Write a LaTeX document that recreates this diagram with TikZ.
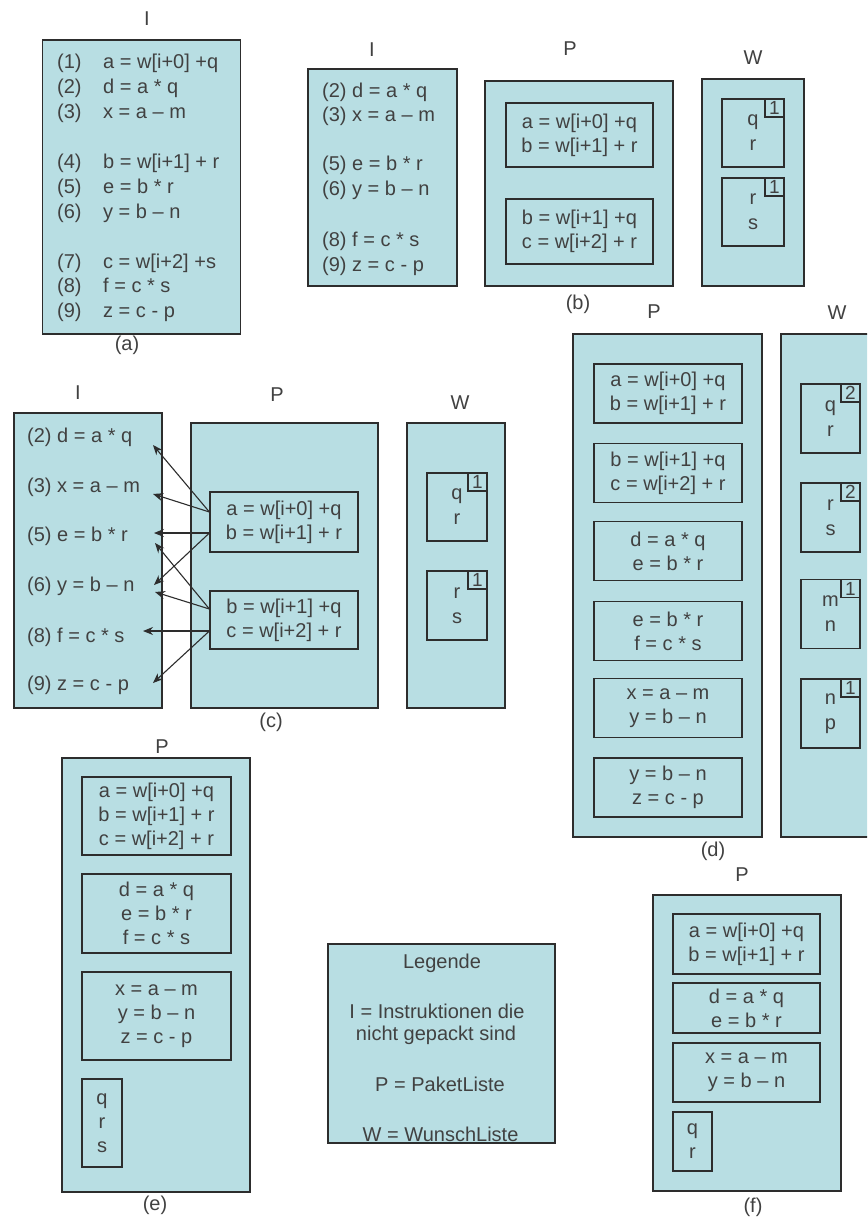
\documentclass[tikz,border=0pt]{standalone}
\usepackage{fontspec}
\setmainfont{Liberation Sans}
\usetikzlibrary{arrows.meta,calc}
\definecolor{boxc}{RGB}{184,222,227}
\definecolor{linec}{RGB}{45,45,45}
\definecolor{txtc}{RGB}{65,65,65}
\newcommand\fsz[2]{\fontsize{#1}{#2}\selectfont}
\begin{document}
\begin{tikzpicture}[x=1pt,y=-1pt,
  panel/.style={draw=linec, fill=boxc, line width=1.2pt, inner sep=0pt, text=txtc},
  sz/.style 2 args={minimum width=#1pt, minimum height=#2pt},
  pk/.style={panel, align=center, font=\fsz{20}{24}},
  wl/.style={panel, align=center, font=\fsz{20}{25}},
  num/.style={panel, anchor=north east, sz={19}{18}, font=\fsz{19}{19}},
  lbl/.style={text=txtc, font=\fsz{20}{24}, inner sep=0pt},
  lg/.style={lbl, text height=15pt, text depth=4pt},
  ln/.style={lbl, anchor=west, text height=15pt, text depth=4pt},
  arr/.style={draw=linec, line width=1.1pt, -{Stealth[length=10pt,width=8pt]}}]
\fill[white] (0,0) rectangle (867,1217);
\useasboundingbox (0,0) rectangle (867,1217);
\clip (0,0) rectangle (867,1217);

% ---------- (a)
\node[panel, sz={198}{294}] (Ia) at (141.7,187) {};
\node[lbl] (Ia-t) at (147,19) {I};
\node[lbl] (Ia-c) at (127,345) {(a)};
\node[ln] (a1) at (57,63)  {\makebox[46pt][l]{(1)}a = w[i+0] +q};
\node[ln] (a2) at (57,88)  {\makebox[46pt][l]{(2)}d = a * q};
\node[ln] (a3) at (57,113) {\makebox[46pt][l]{(3)}x = a – m};
\node[ln] (a4) at (57,163) {\makebox[46pt][l]{(4)}b = w[i+1] + r};
\node[ln] (a5) at (57,188) {\makebox[46pt][l]{(5)}e = b * r};
\node[ln] (a6) at (57,213) {\makebox[46pt][l]{(6)}y = b – n};
\node[ln] (a7) at (57,263) {\makebox[46pt][l]{(7)}c = w[i+2] +s};
\node[ln] (a8) at (57,287) {\makebox[46pt][l]{(8)}f = c * s};
\node[ln] (a9) at (57,312) {\makebox[46pt][l]{(9)}z = c - p};

% ---------- (b)
\node[panel, sz={149}{217}] (Ib) at (382.5,177.5) {};
\node[lbl] (Ib-t) at (372,50) {I};
\node[ln] (b2) at (322,92)  {(2) d = a * q};
\node[ln] (b3) at (322,116) {(3) x = a – m};
\node[ln] (b5) at (322,165) {(5) e = b * r};
\node[ln] (b6) at (322,190) {(6) y = b – n};
\node[ln] (b8) at (322,241) {(8) f = c * s};
\node[ln] (b9) at (322,266) {(9) z = c - p};
\node[panel, sz={188}{205}] (Pb) at (579,183.5) {};
\node[lbl] (Pb-t) at (570,49) {P};
\node[pk, sz={147}{64}] (Pb1) at (579.5,135) {a = w[i+0] +q\\b = w[i+1] + r};
\node[pk, sz={147}{65}] (Pb2) at (579.5,231.5) {b = w[i+1] +q\\c = w[i+2] + r};
\node[panel, sz={102}{207}] (Wb) at (753,182.5) {};
\node[lbl] (Wb-t) at (753,58) {W};
\node[wl, sz={62}{68}] (Wb1) at (753,133) {q\\r};
\node[num] (Wb1n) at (Wb1.north east) {1};
\node[wl, sz={62}{68}] (Wb2) at (753,212) {r\\s};
\node[num] (Wb2n) at (Wb2.north east) {1};
\node[lbl] (b-c) at (578,304) {(b)};

% ---------- (c)
\node[panel, sz={148}{295}] (Ic) at (88,560.5) {};
\node[lbl] (Ic-t) at (78,393) {I};
\node[ln] (c2) at (27,437) {(2) d = a * q};
\node[ln] (c3) at (27,487) {(3) x = a – m};
\node[ln] (c5) at (27,536) {(5) e = b * r};
\node[ln] (c6) at (27,586) {(6) y = b – n};
\node[ln] (c8) at (27,637) {(8) f = c * s};
\node[ln] (c9) at (27,685) {(9) z = c - p};
\node[panel, sz={187}{285}] (Pc) at (284.5,565.5) {};
\node[lbl] (Pc-t) at (277,395) {P};
\node[pk, sz={148}{60}] (Pc1) at (284,522) {a = w[i+0] +q\\b = w[i+1] + r};
\node[pk, sz={148}{58}] (Pc2) at (284,620) {b = w[i+1] +q\\c = w[i+2] + r};
\node[panel, sz={98}{285}] (Wc) at (456,565.5) {};
\node[lbl] (Wc-t) at (460,403) {W};
\node[wl, sz={60}{68}] (Wc1) at (457,507) {q\\r};
\node[num] (Wc1n) at (Wc1.north east) {1};
\node[wl, sz={60}{69}] (Wc2) at (457,605.5) {r\\s};
\node[num] (Wc2n) at (Wc2.north east) {1};
\node[lbl] (c-c) at (271,722) {(c)};

\coordinate (o1) at ($(Pc1.west)+(0,-10)$);
\coordinate (o2) at ($(Pc1.west)+(0,11)$);
\coordinate (o3) at ($(Pc2.west)+(0,-11)$);
\coordinate (o4) at ($(Pc2.west)+(0,11)$);
\coordinate (t1) at (153,445);
\coordinate (t2) at (153,494);
\coordinate (t3) at (154,533);
\coordinate (t4) at (154,585);
\coordinate (t5) at (155,543);
\coordinate (t6) at (155,592);
\coordinate (t7) at (143,631);
\coordinate (t8) at (153,683);
\draw[arr] (o1) -- (t1);
\draw[arr] (o1) -- (t2);
\draw[arr] (o2) -- (t3);
\draw[arr] (o2) -- (t4);
\draw[arr] (o3) -- (t5);
\draw[arr] (o3) -- (t6);
\draw[arr] (o4) -- (t7);
\draw[arr] (o4) -- (t8);

% ---------- (d)
\node[panel, sz={189}{503}] (Pd) at (667.5,585.5) {};
\node[lbl] (Pd-t) at (654,312) {P};
\node[pk, sz={148}{59}] (Pd1) at (668,393.5) {a = w[i+0] +q\\b = w[i+1] + r};
\node[pk, sz={148}{59}] (Pd2) at (668,473) {b = w[i+1] +q\\c = w[i+2] + r};
\node[pk, sz={148}{59}] (Pd3) at (668,551) {d = a * q\\e = b * r};
\node[pk, sz={148}{59}] (Pd4) at (668,631) {e = b * r\\f = c * s};
\node[pk, sz={148}{59}] (Pd5) at (668,708) {x = a – m\\y = b – n};
\node[pk, sz={148}{59}] (Pd6) at (668,787.5) {y = b – n\\z = c - p};
\node[panel, sz={99}{503}] (Wd) at (830.5,585.5) {};
\node[lbl] (Wd-t) at (837,313) {W};
\node[wl, sz={59}{69}] (Wd1) at (830.5,418.5) {q\\r};
\node[num] (Wd1n) at (Wd1.north east) {2};
\node[wl, sz={59}{69}] (Wd2) at (830.5,517.5) {r\\s};
\node[num] (Wd2n) at (Wd2.north east) {2};
\node[wl, sz={59}{69}] (Wd3) at (830.5,614) {m\\n};
\node[num] (Wd3n) at (Wd3.north east) {1};
\node[wl, sz={59}{69}] (Wd4) at (830.5,713.5) {n\\p};
\node[num] (Wd4n) at (Wd4.north east) {1};
\node[lbl] (d-c) at (713,851) {(d)};

% ---------- (e)
\node[panel, sz={188}{434}] (Pe) at (156,975) {};
\node[lbl] (Pe-t) at (162,747) {P};
\node[pk, sz={149}{78}] (Pe1) at (156.5,816) {a = w[i+0] +q\\b = w[i+1] + r\\c = w[i+2] + r};
\node[pk, sz={149}{79}] (Pe2) at (156.5,913.5) {d = a * q\\e = b * r\\f = c * s};
\node[pk, sz={149}{88}] (Pe3) at (156.5,1016) {x = a – m\\y = b – n\\z = c - p};
\node[pk, sz={40}{88}] (Pe4) at (102,1123) {q\\r\\s};
\node[lbl] (e-c) at (155,1205) {(e)};

% ---------- legend
\node[panel, sz={227}{199}] (Lg) at (441.5,1043.5) {};
\node[lg] (Lg1) at (442,963) {Legende};
\node[lg] (Lg2) at (437,1013) {I = Instruktionen die};
\node[lg] (Lg3) at (436,1035) {nicht gepackt sind};
\node[lg] (Lg4) at (440,1086) {P = PaketListe};
\node[lg] (Lg5) at (440.5,1136) {W = WunschListe};

% ---------- (f)
\node[panel, sz={188}{296}] (Pf) at (747,1043) {};
\node[lbl] (Pf-t) at (742,875) {P};
\node[pk, sz={147}{60}] (Pf1) at (746.5,944) {a = w[i+0] +q\\b = w[i+1] + r};
\node[pk, sz={147}{50}] (Pf2) at (746.5,1008) {d = a * q\\e = b * r};
\node[pk, sz={147}{59}] (Pf3) at (746.5,1072.5) {x = a – m\\y = b – n};
\node[pk, sz={39}{59}] (Pf4) at (692.5,1141.5) {q\\r};
\node[lbl] (f-c) at (753,1207) {(f)};
\end{tikzpicture}
\end{document}
